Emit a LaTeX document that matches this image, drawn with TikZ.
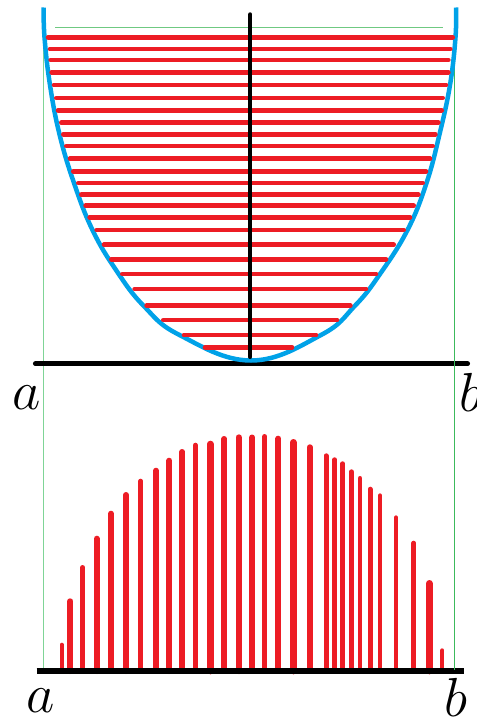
\documentclass[tikz,border=0pt]{standalone}
\usepackage{fix-cm}
\definecolor{redbar}{HTML}{ED1C24}
\definecolor{bluecurve}{HTML}{00A2E8}
\definecolor{greenL}{HTML}{7FD496}
\definecolor{greenR}{HTML}{3CBA5C}
\definecolor{greenT}{HTML}{6FC981}
\tikzset{
  hline/.style={redbar, line width=4.5pt, line cap=round},
  vbar/.style={redbar, line cap=round},
  axisline/.style={black, line width=4.7pt, line cap=round},
  baseaxis/.style={black, line width=6pt},
  guide/.style={line width=1.2pt},
  curve/.style={bluecurve, line width=4.5pt},
  lbl/.style={inner sep=0pt, font=\fontsize{55}{60}\selectfont}
}
\begin{document}
\begin{tikzpicture}[x=1pt,y=-1pt]
\useasboundingbox (0,0) rectangle (476,722);
\fill[white] (0,0) rectangle (476,722);
% guides
\coordinate (gLt) at (43.3,30);
\coordinate (gLb) at (43.3,670);
\coordinate (gRt) at (454.3,30);
\coordinate (gRb) at (454.3,670);
\coordinate (gTl) at (55,27.7);
\coordinate (gTr) at (442.7,27.7);
\draw[guide, greenL] (gLt) -- (gLb);
\draw[guide, greenT] (gTl) -- (gTr);
% axes
\coordinate (axTl) at (35.3,363.7);
\coordinate (axTr) at (467.7,363.7);
\coordinate (axBl) at (36.7,671.3);
\coordinate (axBr) at (464.3,671.3);
% bars (bottom graph)
\foreach \x/\t/\w in {61.7/642.7/4, 70.3/598.3/6, 82.7/565/5, 96.7/535.7/6,
  111/510.7/5.7, 126/492/6, 140.7/478.7/4.7, 156/467.7/5.7, 169.3/457.7/6,
  182.3/449/5.7, 195.3/442.7/5, 210.3/440.7/6.7, 224.3/436/5.7, 238.7/434.3/6.3,
  252.2/434.5/5.7, 264.7/434/5.3, 278.3/435.7/5.7, 293.3/439/6.7, 309.7/444.3/5.7,
  326/453.3/5, 334.7/457.3/4.7, 342.7/461.3/4.7, 351.3/469.3/5, 360/476/4.7,
  370/486.7/5, 380/493.3/4.7, 396/515.3/4.7, 413.7/540.7/4.7, 429.3/580/6.7,
  442.3/648.3/4}
  \draw[vbar, line width=\w pt] (\x,671) -- (\x,{\t+\w/2});
\draw[axisline] (axTl) -- (axTr);
\draw[baseaxis] (axBl) -- (axBr);
\draw[guide, greenR] (gRt) -- (gRb);
% parabola
\draw[curve] plot[smooth, tension=0.7] coordinates {
  (43.7,7.5) (44.5,37.3) (50,85) (59.5,134.3)
  (74,183) (92.5,230) (116,270) (143.5,305.7)
  (179.5,335) (251,360.5) (321,335)
  (355,305.7) (380,274) (407.5,230)
  (426.5,183) (439.5,134.3) (450,85)
  (455.5,37.3) (456,7.5)};
% horizontal red lines
\foreach \y/\l/\r in {37.3/45.7/455, 49/47.7/452.7, 60/48.3/450.7, 72.3/49.3/450.7,
  85/51.7/448.3, 98/54/445, 110.3/55.7/444, 122.7/59/440.7, 134.3/61/437.7,
  146/64/435, 158.7/67.7/432.3, 171.3/71/428.3, 183/76/425, 194.7/79/420.7,
  205.7/83.3/416, 217.3/87.3/412.3, 230/94.3/406, 244.7/101.7/396,
  259.3/109/388.3, 274/120/378.3, 289/132.3/368.3, 305.7/144.3/352.7,
  320/161/339.3, 335/181.7/318.3, 347.3/202.7/294.3}
  \draw[hline] ({\l+2.25},\y) -- ({\r-2.25},\y);
% symmetry axis
\coordinate (vTop) at (250.3,14.3);
\coordinate (vBot) at (250.3,357);
\draw[black, line width=4pt, line cap=round] (vTop) -- (vBot);
% labels
\node[lbl, anchor=base] (aTop) at (26.5,409.5) {$a$};
\node[lbl, anchor=base west] (bTop) at (459.7,411) {$b$};
\node[lbl, anchor=base] (aBot) at (40.7,712.7) {$a$};
\node[lbl, anchor=base west] (bBot) at (444,716.5) {$b$};
\end{tikzpicture}
\end{document}
